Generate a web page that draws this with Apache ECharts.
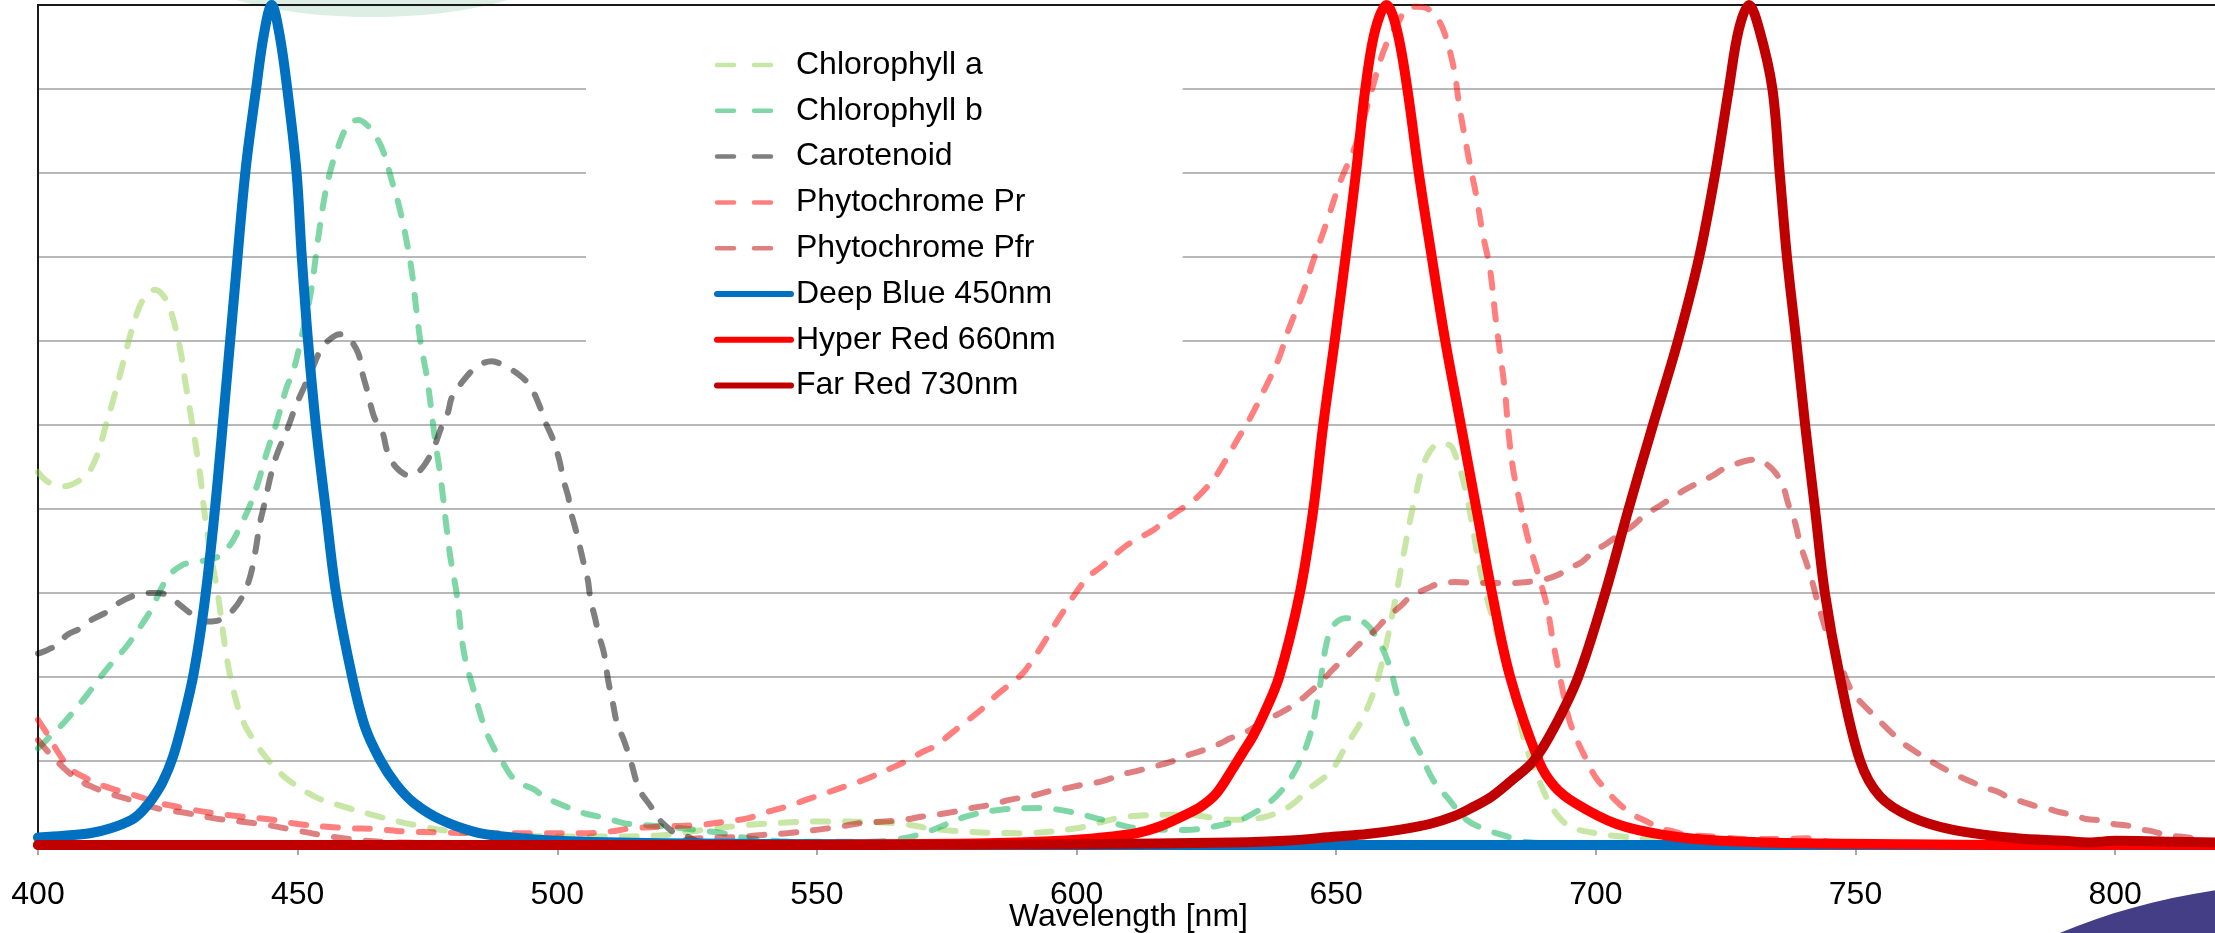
<!DOCTYPE html>
<html>
<head>
<meta charset="utf-8">
<script src="https://cdn.jsdelivr.net/npm/echarts@6/dist/echarts.min.js"></script>
<style>
html,body{margin:0;padding:0;background:#fff;}
#chart{width:2215px;height:933px;}
</style>
</head>
<body>
<div id="chart"></div>
<script>
// ---- data: [wavelength nm, relative value] ----
const seriesNames = ['Chlorophyll a','Chlorophyll b','Carotenoid','Phytochrome Pr','Phytochrome Pfr','Deep Blue 450nm','Hyper Red 660nm','Far Red 730nm'];
const xTicks = [400,450,500,550,600,650,700,750,800];

const chlorophyllA = [[400,0.444],[402,0.432],[405,0.427],[408,0.434],[410,0.446],[411.5,0.466],[413,0.498],[414.5,0.53],[416.5,0.577],[418,0.612],[419.5,0.64],[421,0.656],[422.5,0.661],[424,0.655],[425.5,0.637],[427.3,0.593],[428.5,0.546],[429.8,0.498],[431.1,0.446],[432,0.399],[432.9,0.359],[434.6,0.3],[436.3,0.225],[437.6,0.185],[439.3,0.15],[441.5,0.125],[444.9,0.097],[448.3,0.077],[453.5,0.057],[458.7,0.046],[465.5,0.034],[472.4,0.024],[480,0.016],[493,0.011],[506,0.01],[519,0.011],[528,0.018],[537,0.024],[551,0.028],[565,0.026],[574,0.018],[589,0.014],[600,0.02],[610,0.034],[621,0.036],[630,0.03],[636,0.033],[641,0.046],[645,0.068],[649,0.088],[651.7,0.116],[655.2,0.152],[658.1,0.2],[661,0.28],[663,0.347],[665.2,0.414],[667.4,0.462],[670,0.478],[671.5,0.477],[672.6,0.47],[675,0.42],[678,0.32],[681,0.25],[684,0.185],[685.4,0.145],[687,0.109],[689.6,0.069],[691.8,0.042],[695,0.022],[700,0.014],[705,0.01],[712,0.006],[720,0.003],[740,0.001]];

const chlorophyllB = [[400,0.115],[402.3,0.129],[404.9,0.145],[407.1,0.161],[409.6,0.18],[411.8,0.198],[414.4,0.218],[417,0.236],[419.5,0.258],[421.2,0.274],[422.1,0.284],[423.8,0.306],[425.1,0.32],[427.7,0.333],[430.3,0.337],[432.4,0.339],[434.6,0.343],[437.2,0.359],[438.9,0.379],[440.6,0.401],[442.3,0.43],[444,0.466],[445.8,0.5],[447.9,0.545],[449.2,0.565],[450.9,0.609],[452.6,0.66],[453.9,0.72],[455.2,0.772],[456.5,0.807],[457.8,0.831],[459.1,0.851],[460.4,0.861],[461.7,0.863],[463.2,0.858],[464.7,0.847],[466.4,0.827],[468.5,0.783],[469.4,0.764],[470.7,0.728],[472,0.682],[472.8,0.64],[473.7,0.597],[475,0.553],[476.3,0.49],[477.6,0.434],[479.3,0.347],[480.6,0.3],[482,0.23],[484,0.182],[486,0.14],[488,0.113],[489.6,0.097],[491.3,0.081],[493,0.073],[495.6,0.066],[497.3,0.058],[500,0.05],[505,0.038],[509.4,0.032],[512.8,0.026],[516.3,0.024],[520.6,0.022],[524,0.02],[528,0.017],[531,0.015],[536.8,0.008],[546,0.004],[560,0.004],[566.7,0.008],[571.4,0.016],[578.8,0.034],[585.4,0.042],[592.8,0.044],[598.4,0.04],[605,0.03],[611.5,0.02],[621,0.018],[626.5,0.022],[633,0.034],[639.5,0.065],[644.2,0.117],[646.5,0.176],[648,0.236],[649.3,0.26],[651.7,0.27],[654.5,0.268],[657.3,0.252],[660.1,0.216],[662,0.173],[664.6,0.129],[666.2,0.109],[668.7,0.077],[671.6,0.055],[675.1,0.03],[679,0.018],[683,0.01],[686,0.004],[695,0.001],[700,0]];

const carotenoid = [[400,0.228],[401,0.23],[403.6,0.238],[405.6,0.25],[408.2,0.258],[410.3,0.268],[413.4,0.278],[415.5,0.288],[418.1,0.296],[421,0.3],[423,0.3],[425.1,0.297],[427.3,0.286],[430.3,0.272],[432.9,0.266],[435,0.268],[437.6,0.28],[439.7,0.3],[441,0.323],[441.9,0.351],[442.7,0.382],[443.6,0.406],[444.9,0.442],[446,0.465],[448,0.495],[449.6,0.522],[451.3,0.546],[453,0.57],[454.8,0.593],[457.4,0.607],[458.5,0.608],[459.9,0.603],[461.7,0.585],[462.5,0.561],[463.4,0.541],[464.7,0.51],[466.4,0.49],[467.2,0.47],[468.9,0.45],[471.5,0.44],[473,0.443],[474.6,0.454],[476.3,0.474],[477.6,0.496],[478.9,0.514],[479.7,0.533],[481.4,0.549],[484.4,0.569],[487.4,0.576],[489.6,0.571],[492.6,0.56],[494.8,0.546],[496.5,0.524],[497.8,0.502],[499.1,0.484],[500.4,0.458],[501.2,0.434],[502.1,0.415],[502.5,0.399],[503.4,0.379],[504.2,0.359],[505.1,0.335],[505.9,0.315],[506.4,0.292],[507.2,0.272],[508.1,0.248],[509,0.228],[509.8,0.196],[510.7,0.169],[511.5,0.145],[512.8,0.125],[514.1,0.101],[515.8,0.066],[518,0.046],[519.7,0.03],[521.4,0.02],[522.7,0.014],[525,0.01],[527.4,0.004],[535,0.001],[545,0]];

const phytochromePr = [[400,0.149],[402,0.13],[404,0.109],[406.2,0.091],[408.8,0.081],[411.4,0.073],[414.8,0.066],[418.2,0.06],[423.4,0.05],[428,0.044],[433.7,0.038],[439,0.034],[445.3,0.03],[450,0.025],[455,0.022],[460,0.02],[465,0.019],[470.7,0.016],[477.6,0.015],[485,0.014],[495,0.014],[505,0.014],[510,0.016],[514.5,0.02],[520.6,0.022],[527.5,0.024],[532.5,0.028],[536.8,0.032],[539.6,0.038],[544.3,0.046],[548,0.054],[551.8,0.062],[555.5,0.07],[559.2,0.078],[564.8,0.093],[567.6,0.101],[570.4,0.111],[573.2,0.119],[575.1,0.129],[577.9,0.143],[581.6,0.161],[584.5,0.178],[587.3,0.192],[589.6,0.204],[591.5,0.22],[593.8,0.242],[596.6,0.27],[599.4,0.296],[602.2,0.319],[604.5,0.33],[607.3,0.345],[609.7,0.357],[612.5,0.367],[614.8,0.375],[617.6,0.389],[619.9,0.399],[622.7,0.411],[624.5,0.422],[626.6,0.437],[628.5,0.456],[631.2,0.485],[633.4,0.508],[636,0.54],[638.8,0.577],[640.8,0.613],[643.6,0.657],[645.6,0.696],[648.1,0.74],[650.8,0.79],[653.6,0.831],[656,0.88],[658.6,0.936],[660,0.958],[662,0.98],[663.4,0.994],[665.5,0.998],[667.5,0.996],[669.6,0.983],[671,0.964],[672.7,0.923],[673.7,0.88],[675.6,0.815],[677,0.772],[678.2,0.728],[679.6,0.686],[680.7,0.627],[681.6,0.584],[682.5,0.54],[683.2,0.49],[684.1,0.446],[685.4,0.407],[687,0.363],[689,0.32],[690.6,0.284],[691.8,0.24],[693.1,0.2],[694.7,0.153],[696,0.13],[698.3,0.1],[699.9,0.081],[701.5,0.069],[704.3,0.05],[707.2,0.036],[709.8,0.028],[712.4,0.02],[715,0.016],[717.5,0.012],[723,0.01],[729,0.007],[735,0.007],[741,0.008],[745,0.004],[750,0.001],[760,0]];

const phytochromePfr = [[400,0.125],[402.8,0.105],[405.3,0.09],[407.9,0.077],[410.5,0.069],[413.9,0.061],[418.2,0.053],[423.4,0.043],[428.6,0.038],[433.7,0.032],[438.9,0.028],[444,0.024],[449.2,0.018],[454.4,0.012],[458.7,0.008],[463,0.005],[470,0.003],[490,0.002],[515,0.002],[522,0.004],[527.5,0.008],[535,0.0095],[539.6,0.012],[544.3,0.014],[549.9,0.018],[554.6,0.022],[558.3,0.026],[563,0.028],[566.7,0.03],[570.4,0.034],[575.1,0.038],[579.8,0.044],[583.5,0.048],[587.3,0.054],[591,0.058],[594.7,0.064],[598.4,0.068],[601.3,0.072],[605,0.076],[608.7,0.084],[611.5,0.088],[615.3,0.094],[618.1,0.099],[621,0.106],[624.5,0.113],[627.7,0.121],[629.6,0.127],[632.8,0.135],[635.4,0.145],[637.9,0.153],[639.8,0.159],[642.4,0.169],[644.7,0.181],[647.2,0.195],[649.5,0.21],[652,0.224],[654.6,0.24],[657.2,0.254],[659.7,0.27],[662.3,0.284],[664.6,0.297],[667.4,0.305],[669.7,0.311],[672.9,0.313],[678,0.312],[684,0.312],[688,0.314],[690,0.316],[692.5,0.321],[694.7,0.329],[697.3,0.337],[699.5,0.349],[702.1,0.359],[704.4,0.369],[706.9,0.379],[709.5,0.393],[712.1,0.403],[714.6,0.413],[717.2,0.423],[720,0.432],[722.6,0.44],[724.6,0.448],[727.1,0.454],[729.4,0.458],[731,0.459],[732.3,0.456],[734.5,0.444],[736.1,0.426],[737.1,0.405],[738.4,0.383],[739.3,0.359],[740.6,0.335],[741.6,0.315],[742.5,0.294],[743.5,0.272],[744.5,0.252],[746,0.23],[747.3,0.212],[748.3,0.196],[749.6,0.18],[751.5,0.167],[754.4,0.149],[756.7,0.135],[759.2,0.121],[762.1,0.109],[764.7,0.099],[767.6,0.089],[769.5,0.083],[772.4,0.075],[774.6,0.069],[777.5,0.063],[779.4,0.057],[782.3,0.051],[784.3,0.047],[787.1,0.043],[789.4,0.039],[792.3,0.035],[794.5,0.031],[797.4,0.029],[799.7,0.025],[802.5,0.023],[804.5,0.019],[807.4,0.016],[809.6,0.012],[812.5,0.01],[815,0.008],[818.3,0.002],[820,0]];

const deepBlue = [[400,0.009],[405,0.011],[410,0.014],[414,0.02],[418,0.03],[420,0.04],[422,0.055],[424,0.075],[426,0.105],[428,0.15],[430,0.205],[432,0.285],[434,0.395],[436,0.53],[438,0.67],[440,0.805],[442,0.9],[443.5,0.965],[445,1],[446.5,0.965],[448,0.9],[449.8,0.8],[450.8,0.7],[452,0.6],[453.5,0.5],[455.4,0.4],[457.4,0.3],[460.5,0.2],[463,0.14],[466,0.1],[469,0.072],[472.4,0.05],[477.6,0.03],[484.4,0.015],[490,0.01],[500,0.005],[520,0.002],[560,0.001],[600,0],[820,0]];

const hyperRed = [[400,0],[540,0],[565,0.001],[583,0.002],[597,0.005],[605,0.009],[611.5,0.014],[616,0.022],[621,0.036],[624,0.046],[627,0.062],[630,0.09],[632,0.11],[634,0.13],[636,0.155],[639,0.2],[643,0.3],[645.6,0.4],[647.5,0.5],[649.7,0.6],[651.8,0.7],[653.8,0.8],[655.6,0.9],[657.5,0.97],[659.7,1],[661.7,0.97],[663.7,0.9],[665.9,0.8],[668.4,0.7],[671,0.6],[674,0.5],[677,0.4],[680,0.3],[683.5,0.2],[689,0.1],[692,0.07],[696,0.05],[704,0.025],[714,0.011],[724,0.005],[740,0.002],[760,0.001],[780,0],[820,0]];

const farRed = [[400,0],[560,0],[600,0.001],[630,0.003],[640,0.005],[650,0.01],[656,0.013],[662,0.018],[668,0.025],[672.6,0.034],[676,0.044],[680,0.058],[684,0.078],[688,0.1],[692,0.14],[696.6,0.2],[701.8,0.3],[706.3,0.4],[711,0.5],[715.8,0.6],[719.9,0.7],[723,0.8],[725.6,0.9],[727.5,0.97],[729.5,1],[731.5,0.97],[734,0.9],[735.4,0.8],[736.8,0.7],[738.6,0.6],[740.3,0.5],[742.2,0.4],[744.1,0.3],[747,0.2],[750.9,0.1],[754.7,0.058],[760.5,0.034],[768.8,0.018],[781,0.008],[790,0.005],[795,0.003],[800,0.005],[810,0.004],[820,0.003]];

// ---- styling ----
const FONT = '"Liberation Sans", Arial, Helvetica, sans-serif';
const dataSets = [chlorophyllA, chlorophyllB, carotenoid, phytochromePr, phytochromePfr, deepBlue, hyperRed, farRed];
const colors = ['#92d050','#00b050','#000000','#ff0000','#c00000','#0070c0','#ff0000','#c00000'];
const dashed = [true,true,true,true,true,false,false,false];

const series = seriesNames.map((name, i) => ({
  name: name,
  type: 'line',
  data: dataSets[i],
  showSymbol: false,
  symbol: 'none',
  smooth: 0.35,
  z: 2 + i,
  animation: false,
  emphasis: { disabled: true },
  lineStyle: dashed[i]
    ? { color: colors[i], width: 6, type: [15, 17], cap: 'round', join: 'round', opacity: 0.5 }
    : { color: colors[i], width: 10, type: 'solid', cap: 'round', join: 'round', opacity: 1 }
}));

const legendData = seriesNames.map((name, i) => ({
  name: name,
  itemStyle: { opacity: 0 },
  lineStyle: dashed[i]
    ? { color: colors[i], width: 4.5, type: [17, 20], cap: 'round', opacity: 0.5 }
    : { color: colors[i], width: 6, type: 'solid', cap: 'round', opacity: 1 }
}));

const chart = echarts.init(document.getElementById('chart'), null, { renderer: 'canvas' });
chart.setOption({
  backgroundColor: '#ffffff',
  animation: false,
  color: colors,
  textStyle: { fontFamily: FONT },
  graphic: [
    { type: 'ellipse', z: -10, silent: true, shape: { cx: 372, cy: -40, rx: 190, ry: 57 }, style: { fill: '#ddefe5' } },
    { type: 'ellipse', z: 100, silent: true, shape: { cx: 2350, cy: 1080, rx: 428, ry: 200 }, style: { fill: '#433e86' } }
  ],
  grid: {
    left: 38, right: -4, top: 5, bottom: 88,
    outerBoundsMode: 'none',
    containLabel: false,
    show: true, borderColor: '#1a1a1a', borderWidth: 2, backgroundColor: 'transparent'
  },
  legend: {
    orient: 'vertical',
    left: 586, top: 8,
    padding: [39, 127, 4, 128],
    itemWidth: 74, itemHeight: 14, itemGap: 9.8,
    backgroundColor: '#ffffff',
    selectedMode: false,
    textStyle: { fontFamily: FONT, fontSize: 32, color: '#000', lineHeight: 36 },
    data: legendData
  },
  xAxis: {
    type: 'value', min: 400, max: 820, interval: 50,
    name: 'Wavelength [nm]', nameLocation: 'middle', nameGap: 56,
    nameMoveOverlap: false,
    nameTextStyle: { fontFamily: FONT, fontSize: 32, color: '#000' },
    axisLine: { show: false },
    axisTick: { show: true, length: 10, lineStyle: { color: '#8c8c8c', width: 1.5 } },
    axisLabel: {
      show: true, margin: 34, fontFamily: FONT, fontSize: 32, color: '#000',
      showMaxLabel: false,
      formatter: v => (xTicks.indexOf(v) >= 0 ? String(v) : '')
    },
    splitLine: { show: false }
  },
  yAxis: {
    type: 'value', min: 0, max: 1, interval: 0.1,
    axisLine: { show: true, lineStyle: { color: '#1a1a1a', width: 2 } },
    axisTick: { show: false },
    axisLabel: { show: false },
    splitLine: { show: true, showMinLine: false, showMaxLine: false, lineStyle: { color: '#a0a0a0', width: 1.5 } }
  },
  series: series
});
</script>
</body>
</html>
